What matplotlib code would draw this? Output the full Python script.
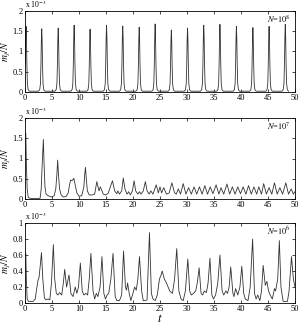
import numpy as np
import matplotlib
matplotlib.use("Agg")
import matplotlib.pyplot as plt

plt.rcParams['font.family'] = ['Liberation Serif', 'DejaVu Serif']
plt.rcParams['mathtext.fontset'] = 'stix'

# ---------------- Data (values in units of 1e-3) ----------------
# Panel 1 (N=10^8): regular narrow spikes
p1_peak_times = [0.2, 3.1, 6.15, 9.1, 12.05, 15.1, 18.1, 21.15, 24.1, 27.1,
                 30.1, 33.1, 36.1, 39.15, 42.2, 45.2, 48.2]
p1_peak_heights = [1.62, 1.56, 1.58, 1.65, 1.55, 1.65, 1.63, 1.60, 1.68, 1.53,
                   1.58, 1.65, 1.67, 1.62, 1.59, 1.62, 1.67]
p1_shape_offsets = [-0.6, -0.38, -0.24, -0.15, -0.07, 0.0, 0.07, 0.15, 0.24, 0.38, 0.6]
p1_shape_profile = [0.012, 0.035, 0.13, 0.42, 0.83, 1.0, 0.83, 0.42, 0.13, 0.035, 0.012]

# Panel 2 (N=10^7)
p2_t = [0.15, 0.25, 0.4, 0.6, 0.85, 1.5, 2.3, 2.8, 3.0, 3.2, 3.4, 3.55, 3.7, 3.9, 4.3,
        4.9, 5.4, 5.7, 5.9, 6.05, 6.2, 6.4, 6.7, 7.1, 7.6, 8.0, 8.25, 8.45, 8.7,
        9.05, 9.3, 9.6, 10.0, 10.5, 10.9, 11.05, 11.2, 11.35, 11.55, 11.9, 12.4,
        12.9, 13.3, 13.7, 13.95, 14.2, 14.5, 14.9, 15.4, 15.8, 16.2, 16.6, 17.0,
        17.2, 17.5, 17.9, 18.2, 18.5, 18.9, 19.2, 19.5, 19.9, 20.2, 20.5, 20.9,
        21.2, 21.5, 21.9, 22.3, 22.6, 23.0, 23.3, 23.7, 24.3, 24.7, 25.0, 25.3,
        25.7, 26.2, 26.7, 27.2, 27.7, 28.0, 28.4, 28.8, 29.3, 29.8, 30.3, 30.8,
        31.3, 31.8, 32.3, 32.8, 33.3, 33.8, 34.3, 34.8, 35.4, 35.9, 36.3, 36.8,
        37.4, 37.9, 38.4, 38.9, 39.4, 39.9, 40.4, 40.9, 41.4, 41.9, 42.4, 42.9,
        43.3, 43.8, 44.2, 44.7, 45.2, 45.7, 46.2, 46.7, 47.2, 47.7, 48.3, 48.8,
        49.3, 49.7, 50.0]
p2_y = [1.62, 0.9, 0.25, 0.04, 0.02, 0.01, 0.01, 0.02, 0.25, 0.9, 1.47, 0.8, 0.3, 0.12, 0.08,
        0.05, 0.08, 0.25, 0.6, 0.96, 0.6, 0.25, 0.1, 0.05, 0.06, 0.15, 0.35, 0.47, 0.45,
        0.51, 0.35, 0.15, 0.07, 0.08, 0.3, 0.6, 0.78, 0.5, 0.2, 0.1, 0.1,
        0.12, 0.43, 0.2, 0.3, 0.22, 0.12, 0.1, 0.14, 0.3, 0.45, 0.2, 0.13,
        0.2, 0.12, 0.2, 0.52, 0.25, 0.12, 0.18, 0.1, 0.2, 0.45, 0.2, 0.12,
        0.18, 0.12, 0.2, 0.43, 0.2, 0.12, 0.2, 0.12, 0.35, 0.15, 0.3, 0.15,
        0.28, 0.12, 0.15, 0.4, 0.15, 0.12, 0.25, 0.12, 0.38, 0.12, 0.28, 0.12,
        0.3, 0.12, 0.3, 0.12, 0.33, 0.12, 0.3, 0.13, 0.35, 0.12, 0.28, 0.12,
        0.37, 0.12, 0.3, 0.12, 0.3, 0.13, 0.3, 0.12, 0.33, 0.12, 0.3, 0.12,
        0.3, 0.12, 0.38, 0.12, 0.28, 0.12, 0.4, 0.12, 0.28, 0.12, 0.4, 0.12,
        0.25, 0.12, 0.18]

# Panel 3 (N=10^6)
p3_t = [0.15, 0.25, 0.4, 0.65, 1.0, 1.5, 1.9, 2.1, 2.4, 2.6, 2.8, 3.05, 3.3, 3.6, 3.9,
        4.3, 4.6, 4.9, 5.25, 5.5, 5.8, 6.1, 6.4, 6.8, 7.1, 7.35, 7.7, 8.15, 8.5,
        8.9, 9.3, 9.6, 9.9, 10.25, 10.6, 10.9, 11.3, 11.6, 11.9, 12.2, 12.6, 12.9,
        13.2, 13.5, 13.9, 14.25, 14.6, 14.9, 15.2, 15.5, 15.9, 16.3, 16.7, 17.0,
        17.5, 17.9, 18.25, 18.6, 18.8, 19.0, 19.3, 19.6, 19.9, 20.3, 20.6, 20.9,
        21.2, 21.6, 21.9, 22.3, 22.6, 23.05, 23.4, 23.7, 24.1, 24.5, 24.9, 25.2,
        25.4, 25.8, 26.2, 26.8, 27.3, 27.7, 28.1, 28.5, 28.9, 29.3, 29.7, 30.15,
        30.5, 30.8, 31.2, 31.6, 31.9, 32.25, 32.6, 32.9, 33.2, 33.6, 33.9, 34.25,
        34.6, 34.9, 35.3, 35.7, 36.1, 36.5, 36.8, 37.2, 37.5, 37.8, 38.1, 38.5,
        38.7, 39.0, 39.4, 39.8, 40.15, 40.5, 40.8, 41.3, 41.7, 42.15, 42.5, 42.8,
        43.1, 43.5, 43.8, 44.1, 44.5, 44.8, 45.1, 45.4, 45.8, 46.2, 46.4, 46.8,
        47.1, 47.4, 47.8, 48.2, 48.6, 48.9, 49.35, 49.7, 50.0]
p3_y = [0.62, 0.3, 0.05, 0.02, 0.02, 0.02, 0.05, 0.15, 0.28, 0.32, 0.45, 0.63, 0.3, 0.06, 0.04,
        0.05, 0.04, 0.25, 0.73, 0.3, 0.12, 0.1, 0.13, 0.1, 0.25, 0.42, 0.2, 0.35, 0.12,
        0.08, 0.2, 0.12, 0.2, 0.5, 0.15, 0.1, 0.12, 0.1, 0.3, 0.62, 0.15, 0.05,
        0.12, 0.08, 0.2, 0.58, 0.12, 0.05, 0.1, 0.12, 0.3, 0.62, 0.08, 0.03,
        0.03, 0.1, 0.65, 0.2, 0.16, 0.25, 0.12, 0.03, 0.1, 0.2, 0.16, 0.3,
        0.58, 0.15, 0.03, 0.03, 0.04, 0.88, 0.12, 0.05, 0.03, 0.1, 0.3, 0.35,
        0.4, 0.3, 0.25, 0.15, 0.12, 0.3, 0.68, 0.15, 0.05, 0.03, 0.15, 0.55,
        0.15, 0.1, 0.12, 0.15, 0.25, 0.44, 0.12, 0.1, 0.15, 0.13, 0.25, 0.56,
        0.1, 0.05, 0.1, 0.25, 0.6, 0.15, 0.1, 0.15, 0.12, 0.2, 0.45, 0.12,
        0.08, 0.18, 0.1, 0.2, 0.46, 0.12, 0.05, 0.03, 0.2, 0.8, 0.12, 0.05,
        0.1, 0.03, 0.15, 0.47, 0.22, 0.27, 0.15, 0.1, 0.05, 0.18, 0.15, 0.3,
        0.78, 0.2, 0.02, 0.02, 0.02, 0.15, 0.58, 0.3, 0.2]

panel_labels = [r'$N$=$10^{8}$', r'$N$=$10^{7}$', r'$N$=$10^{6}$']
yticks_list = [[0, 0.5, 1, 1.5, 2], [0, 0.5, 1, 1.5, 2], [0, 0.2, 0.4, 0.6, 0.8, 1]]
ytick_labels_list = [['0', '0.5', '1', '1.5', '2'], ['0', '0.5', '1', '1.5', '2'],
                     ['0', '0.2', '0.4', '0.6', '0.8', '1']]
xticks = [0, 5, 10, 15, 20, 25, 30, 35, 40, 45, 50]
ylims = [2, 2, 1]

# Build panel 1 series from the peak list and the peak profile
p1_t, p1_y = [], []
for tc, h in zip(p1_peak_times, p1_peak_heights):
    for off, prof in zip(p1_shape_offsets, p1_shape_profile):
        tt = tc + off
        if 0 <= tt <= 50:
            p1_t.append(tt)
            p1_y.append(max(h * prof, 0.02))

series = [(p1_t, p1_y), (p2_t, p2_y), (p3_t, p3_y)]

# ---------------- Figure ----------------
W, H = 299, 324
fig = plt.figure(figsize=(W / 100, H / 100), dpi=100)
boxes = [(11, 92), (118, 199), (223, 303)]
left, right = 25, 295
fs = 6

for i, ((t, y), (top, bot)) in enumerate(zip(series, boxes)):
    ax = fig.add_axes([left / W, 1 - bot / H, (right - left) / W, (bot - top) / H])
    ax.plot(t, y, color='#333333', lw=0.6)
    ax.set_xlim(0, 50)
    ax.set_ylim(0, ylims[i])
    ax.set_xticks(xticks)
    ax.set_xticklabels([str(v) for v in xticks], fontsize=fs)
    ax.set_yticks(yticks_list[i])
    ax.set_yticklabels(ytick_labels_list[i], fontsize=fs)
    ax.tick_params(direction='in', top=True, right=True, length=2.5, width=0.5, pad=1.5)
    for s in ax.spines.values():
        s.set_linewidth(0.6)
    ax.set_ylabel(r'$m_j/N$', fontsize=7)
    ax.yaxis.set_label_coords(-0.043, 0.5)
    ax.text(0.0, 1.01, r'x 10$^{-3}$', transform=ax.transAxes, fontsize=5.5,
            ha='left', va='bottom')
    ax.text(0.985, 0.9, panel_labels[i], transform=ax.transAxes, fontsize=6,
            ha='right', va='center')
    if i == 2:
        ax.set_xlabel(r'$t$', fontsize=9, labelpad=0)

fig.savefig('out.png', dpi=100)
